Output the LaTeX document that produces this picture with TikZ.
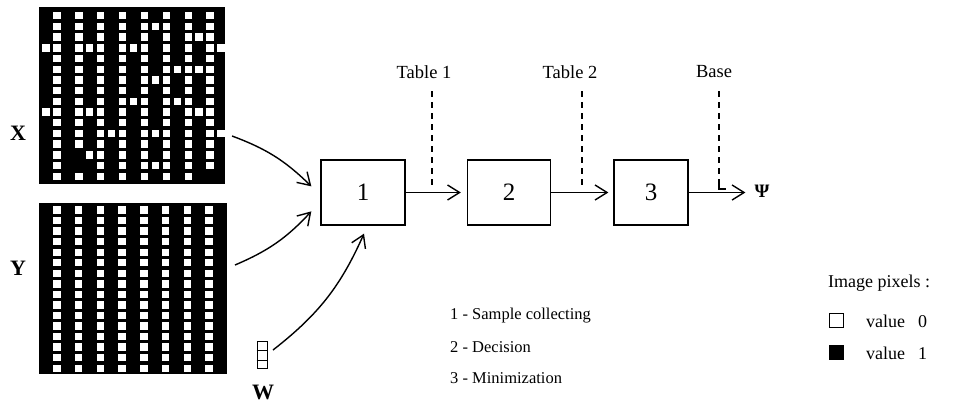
\documentclass[tikz,border=0pt]{standalone}
\usepackage{fontspec}
\setmainfont{Liberation Serif}
\usetikzlibrary{arrows.meta}
\begin{document}
\begin{tikzpicture}[x=1pt,y=-1pt,
  stage/.style={draw, line width=1.3pt, minimum height=65pt, inner sep=0pt, font=\fontsize{25}{27}\selectfont},
  flow/.style={line width=1.4pt, -{Straight Barb[length=12pt,width=15pt,line width=1.4pt]}},
  tbl/.style={line width=1.1pt, dash pattern=on 6pt off 5pt},
  lbl/.style={font=\fontsize{18.5}{21}\selectfont, inner sep=0pt},
  big/.style={font=\fontsize{22}{24}\selectfont\bfseries, inner sep=0pt},
  legtxt/.style={font=\fontsize{16.5}{19}\selectfont, inner sep=0pt, anchor=west},
  grid/.style={fill=black, inner sep=0pt, anchor=north west}
]
\useasboundingbox (0,0) rectangle (977,407);
% X image
\node[grid, minimum width=186pt, minimum height=177pt] (gx) at (39,7) {};
\foreach \r/\cl in {0/{1,3,5,7,9,11,13,15},
  1/{1,3,5,7,9,10,11,13,15},
  2/{1,3,5,7,9,11,13,14,15},
  3/{0,1,3,4,5,7,8,9,11,13,15,16},
  4/{1,3,5,7,9,11,13,15},
  5/{1,3,5,7,9,11,12,13,14,15},
  6/{1,3,5,7,9,10,11,13,15},
  7/{1,3,5,7,9,11,13,15},
  8/{1,3,5,7,8,9,11,12,13,15},
  9/{0,1,3,4,5,7,9,11,13,14,15},
  10/{1,3,5,7,9,11,13,15},
  11/{1,3,5,6,7,9,10,11,13,15,16},
  12/{1,3,5,7,9,11,13,15},
  13/{1,4,5,7,9,11,13,15},
  14/{1,5,7,9,10,11,13,15},
  15/{1,3,5,7,9,11,13}}{
  \foreach \c in \cl {
    \fill[white] ({46+10.94*\c-3.7},{15.7+10.7*\r-3.7}) rectangle ++(7.4,7.4);
  }
}
% Y image
\node[grid, minimum width=188pt, minimum height=171pt] (gy) at (39,203) {};
\foreach \r in {0,...,15}{
  \foreach \k in {0,...,7}{
    \fill[white] ({57+21.7*\k-3.7},{210+10.55*\r-3.7}) rectangle ++(7.4,7.4);
  }
}
\node[big] (lx) at (18,133) {X};
\node[big] (ly) at (18,268) {Y};
% W vector
\node[draw, line width=0.9pt, minimum width=10pt, minimum height=27pt, inner sep=0pt] (w) at (262,355) {};
\draw[line width=0.9pt] ([yshift=-9pt]w.north west) -- ([yshift=-9pt]w.north east);
\draw[line width=0.9pt] ([yshift=9pt]w.south west) -- ([yshift=9pt]w.south east);
\node[big] (lw) at (263,392) {W};
% stages
\node[stage, minimum width=84pt] (b1) at (363,192.5) {1};
\node[stage, minimum width=83pt] (b2) at (509,192.5) {2};
\node[stage, minimum width=74pt] (b3) at (651,192.5) {3};
\node[font=\fontsize{19}{21}\selectfont\bfseries, inner sep=0pt] (psi) at (762,191) {Ψ};
% inputs
\coordinate (xs) at (232,136);
\coordinate (ys) at (235,265);
\coordinate (ws) at (273,350);
\draw[flow] (xs) to[bend left=12] ([xshift=-9pt,yshift=-27pt]b1.north west);
\draw[flow] (ys) to[bend right=12] ([xshift=-9pt,yshift=-52pt]b1.north west);
\draw[flow] (ws) to[bend right=14] ([xshift=1pt,yshift=-8pt]b1.south);
% flow
\draw[flow, shorten >=6pt] (b1.east) -- (b2.west);
\draw[flow, shorten >=5pt] (b2.east) -- (b3.west);
\draw[flow, shorten >=9pt] (b3.east) -- (b3.east -| psi.west);
% tables
\node[lbl] (t1) at (424,72) {Table 1};
\node[lbl] (t2) at (570,72) {Table 2};
\node[lbl] (t3) at (714,72) {Base};
\coordinate (d1a) at (432,91); \coordinate (d1b) at (432,188);
\coordinate (d2a) at (582,91); \coordinate (d2b) at (582,188);
\coordinate (d3a) at (719,91); \coordinate (d3b) at (719,183);
\coordinate (d3c) at (719,189);
\coordinate (d3d) at (726,189);
\draw[tbl] (d1a) -- (d1b);
\draw[tbl] (d2a) -- (d2b);
\draw[tbl] (d3a) -- (d3b);
\draw[line width=1.1pt] (d3b) -- (d3c) -- (d3d);
% legend
\node[legtxt] (n1) at (450,316) {1 - Sample collecting};
\node[legtxt] (n2) at (450,347) {2 - Decision};
\node[legtxt] (n3) at (450,378) {3 - Minimization};
\node[legtxt, font=\fontsize{18}{20}\selectfont] (ip) at (828,283) {Image pixels :};
\node[draw, line width=1pt, minimum size=14pt, inner sep=0pt] (s0) at (836,320) {};
\node[fill=black, minimum size=15pt, inner sep=0pt] (s1) at (836,352) {};
\node[legtxt, font=\fontsize{18}{20}\selectfont] (v0) at (866,321) {value\hspace{13pt}0};
\node[legtxt, font=\fontsize{18}{20}\selectfont] (v1) at (866,353) {value\hspace{13pt}1};
\end{tikzpicture}
\end{document}
